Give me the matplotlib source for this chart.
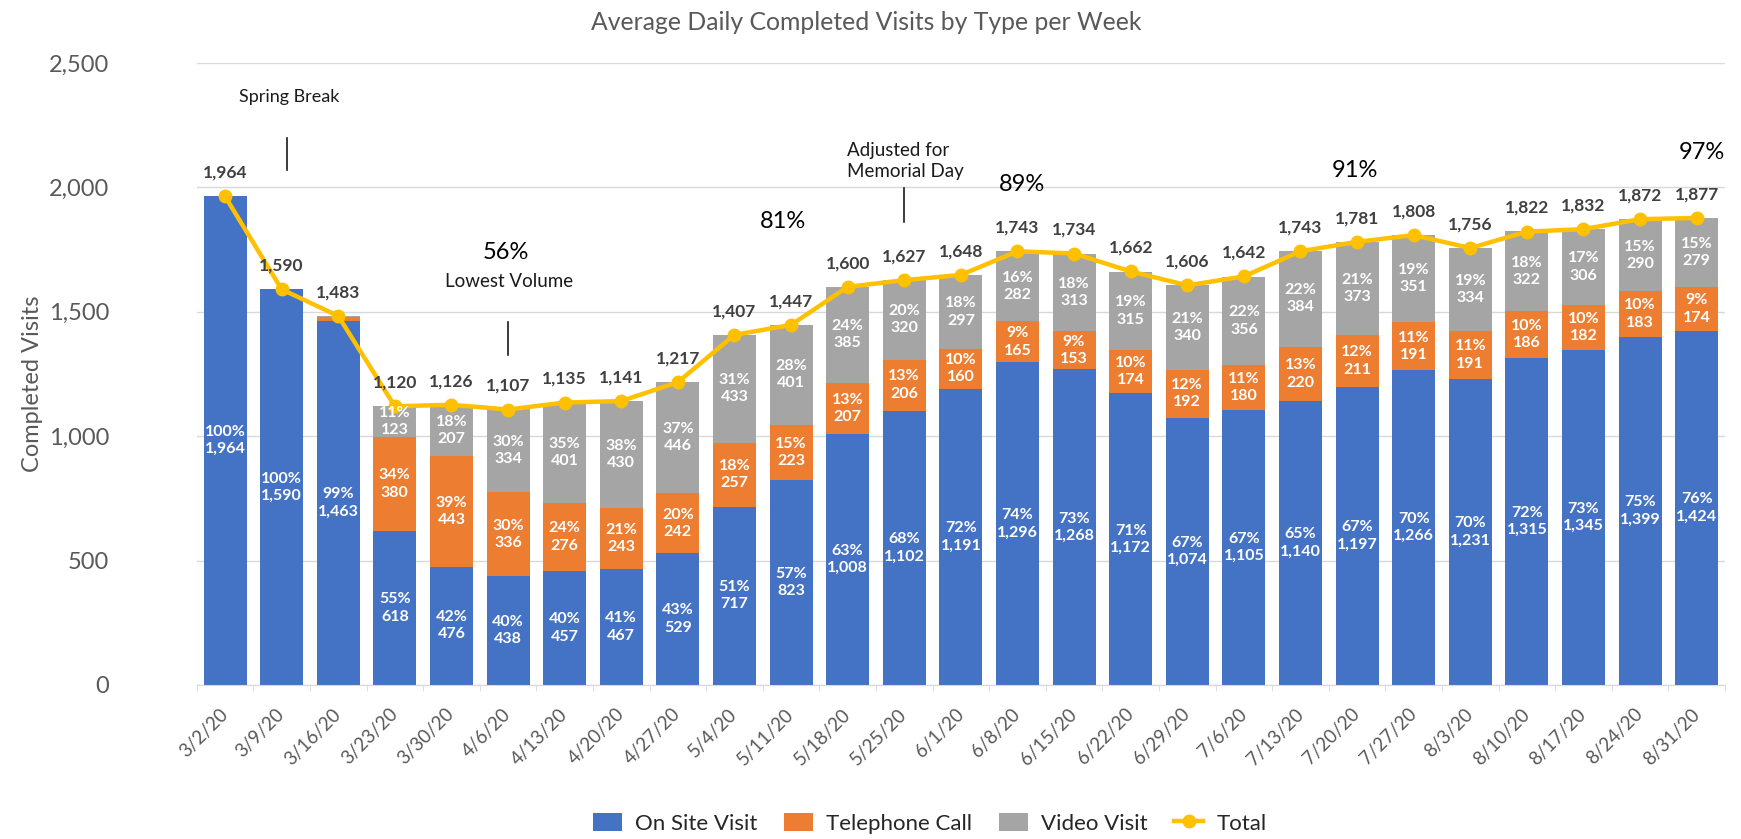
import matplotlib
matplotlib.use("Agg")
import matplotlib.pyplot as plt
from matplotlib.ticker import FuncFormatter, MultipleLocator
import numpy as np

plt.rcParams['font.family'] = ['Lato', 'DejaVu Sans']

weeks = ["3/2/20", "3/9/20", "3/16/20", "3/23/20", "3/30/20", "4/6/20", "4/13/20",
         "4/20/20", "4/27/20", "5/4/20", "5/11/20", "5/18/20", "5/25/20", "6/1/20",
         "6/8/20", "6/15/20", "6/22/20", "6/29/20", "7/6/20", "7/13/20", "7/20/20",
         "7/27/20", "8/3/20", "8/10/20", "8/17/20", "8/24/20", "8/31/20"]
on_site = [1964, 1590, 1463, 618, 476, 438, 457, 467, 529, 717, 823, 1008, 1102, 1191,
           1296, 1268, 1172, 1074, 1105, 1140, 1197, 1266, 1231, 1315, 1345, 1399, 1424]
telephone = [0, 0, 14, 380, 443, 336, 276, 243, 242, 257, 223, 207, 206, 160,
             165, 153, 174, 192, 180, 220, 211, 191, 191, 186, 182, 183, 174]
video = [0, 0, 6, 123, 207, 334, 401, 430, 446, 433, 401, 385, 320, 297,
         282, 313, 315, 340, 356, 384, 373, 351, 334, 322, 306, 290, 279]
total = [1964, 1590, 1483, 1120, 1126, 1107, 1135, 1141, 1217, 1407, 1447, 1600, 1627, 1648,
         1743, 1734, 1662, 1606, 1642, 1743, 1781, 1808, 1756, 1822, 1832, 1872, 1877]

C_ON, C_TEL, C_VID, C_TOT = "#4472C4", "#ED7D31", "#A5A5A5", "#FFC000"
GRAY_TXT = "#595959"

fig = plt.figure(figsize=(17.41, 8.39), dpi=100)
ax = fig.add_axes([0.1130, 0.1836, 0.8778, 0.7414])

x = np.arange(len(weeks))
on = np.array(on_site, float)
tel = np.array(telephone, float)
vid = np.array(video, float)
tot = np.array(total, float)
w = 0.76

b1 = ax.bar(x, on, w, color=C_ON, label="On Site Visit", zorder=2)
b2 = ax.bar(x, tel, w, bottom=on, color=C_TEL, label="Telephone Call", zorder=2)
b3 = ax.bar(x, vid, w, bottom=on + tel, color=C_VID, label="Video Visit", zorder=2)
ln, = ax.plot(x, tot, color=C_TOT, lw=3.2, marker="o", ms=9, label="Total", zorder=4)

def pct(v, t):
    return int(v / t * 100 + 0.5)

for i in range(len(x)):
    segs = [(on[i], 0), (tel[i], on[i]), (vid[i], on[i] + tel[i])]
    for val, base in segs:
        if val >= 50:
            ax.text(x[i], base + val / 2, f"{pct(val, tot[i])}%\n{int(val):,}",
                    ha="center", va="center", color="white", fontsize=11.5,
                    fontweight="bold", linespacing=1.3, zorder=5)
    ax.annotate(f"{int(tot[i]):,}", (x[i], tot[i]), xytext=(0, 17),
                textcoords="offset points", ha="center", va="center",
                fontsize=12.5, fontweight="bold", color="#404040", zorder=6)

ax.set_xlim(-0.5, len(x) - 0.5)
ax.set_ylim(0, 2500)
ax.yaxis.set_major_locator(MultipleLocator(500))
ax.yaxis.set_major_formatter(FuncFormatter(lambda v, p: f"{int(v):,}"))
ax.grid(axis="y", color="#D9D9D9", lw=1, zorder=0)
ax.set_axisbelow(True)
for s in ["top", "right", "left"]:
    ax.spines[s].set_visible(False)
ax.spines["bottom"].set_color("#D9D9D9")
ax.tick_params(axis="y", length=0, pad=63, labelsize=17, labelcolor=GRAY_TXT)
ax.set_xticks(x)
ax.set_xticklabels(weeks, rotation=45, ha="right", va="center",
                   rotation_mode="anchor", fontsize=13.5, color=GRAY_TXT)
ax.tick_params(axis="x", which="major", length=0, pad=19)
ax.set_xticks(np.arange(-0.5, len(x), 1.0), minor=True)
ax.tick_params(axis="x", which="minor", length=4.5, color="#D9D9D9")

fig.text(33 / 1741, 1 - 384 / 839, "Completed Visits", rotation=90, ha="center",
         va="center", fontsize=17, color=GRAY_TXT)
fig.text(866 / 1741, 1 - 22 / 839, "Average Daily Completed Visits by Type per Week",
         ha="center", va="center", fontsize=17.8, color=GRAY_TXT)

# annotations
ax.text(1.13, 2363, "Spring Break", ha="center", va="center", fontsize=13, color="#1a1a1a")
ax.plot([1.10, 1.10], [2070, 2199], color="#1a1a1a", lw=1.2, zorder=3)
ax.text(4.96, 1740, "56%", ha="center", va="center", fontsize=17, color="black")
ax.text(5.02, 1620, "Lowest Volume", ha="center", va="center", fontsize=13.5, color="#1a1a1a")
ax.plot([5.0, 5.0], [1326, 1459], color="#1a1a1a", lw=1.2, zorder=3)
ax.text(9.86, 1861, "81%", ha="center", va="center", fontsize=17, color="black")
ax.text(10.99, 2106, "Adjusted for\nMemorial Day", ha="left", va="center",
        fontsize=13.5, color="#1a1a1a", linespacing=1.3)
ax.plot([12.0, 12.0], [1861, 1998], color="#1a1a1a", lw=1.2, zorder=3)
ax.text(14.08, 2010, "89%", ha="center", va="center", fontsize=17, color="black")
ax.text(19.96, 2066, "91%", ha="center", va="center", fontsize=17, color="black")
ax.text(26.1, 2142, "97%", ha="center", va="center", fontsize=17, color="black")

fig.legend(handles=[b1, b2, b3, ln], loc="center", bbox_to_anchor=(0.534, 0.019),
           ncol=4, frameon=False, fontsize=16, handlelength=1.3, handleheight=0.9,
           handletextpad=0.6, columnspacing=1.2, labelcolor="#262626")

fig.savefig("out.png", dpi=100)
